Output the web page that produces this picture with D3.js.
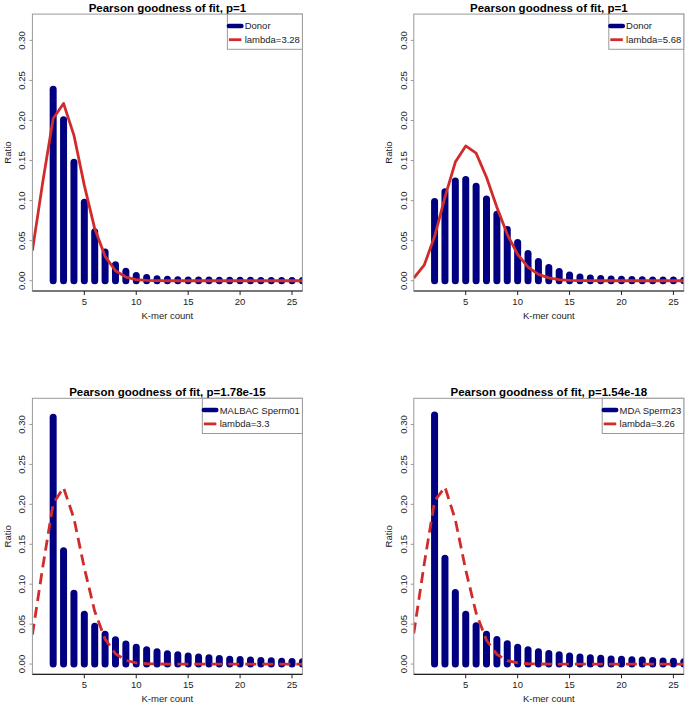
<!DOCTYPE html>
<html>
<head>
<meta charset="utf-8">
<script src="https://cdn.jsdelivr.net/npm/d3@7"></script>
<style>
  html, body { margin: 0; padding: 0; background: #fff; }
  svg { display: block; font-family: "Liberation Sans", Arial, Helvetica, sans-serif; }
</style>
</head>
<body>
<svg id="chart" width="689" height="705"></svg>
<script>
// ---------------- DATA ----------------
const barK = [2,3,4,5,6,7,8,9,10,11,12,13,14,15,16,17,18,19,20,21,22,23,24,25,26];
const fitK = [0,1,2,3,4,5,6,7,8,9,10,11,12,13,14,15,16,17,18,19,20,21,22,23,24,25,26];

const titles = [
  "Pearson goodness of fit, p=1",
  "Pearson goodness of fit, p=1",
  "Pearson goodness of fit, p=1.78e-15",
  "Pearson goodness of fit, p=1.54e-18"
];
const sampleNames = ["Donor", "Donor", "MALBAC Sperm01", "MDA Sperm23"];
const lambdaLabels = ["lambda=3.28", "lambda=5.68", "lambda=3.3", "lambda=3.26"];

const donorA = [0.239, 0.201, 0.148, 0.098, 0.061, 0.036, 0.020, 0.012, 0.0065, 0.004, 0.0025, 0.0018, 0.0013, 0.001, 0.0009, 0.0008, 0.0007, 0.0006, 0.0005, 0.0005, 0.0004, 0.0004, 0.0003, 0.0003, 0.0003];
const donorB = [0.099, 0.111, 0.1245, 0.1265, 0.118, 0.102, 0.083, 0.064, 0.0476, 0.034, 0.024, 0.0164, 0.0114, 0.0072, 0.0047, 0.0035, 0.0028, 0.0022, 0.0018, 0.0015, 0.0012, 0.001, 0.0009, 0.0008, 0.0007];
const malbac01 = [0.309, 0.142, 0.0888, 0.0625, 0.0475, 0.0375, 0.0304, 0.025, 0.0212, 0.018, 0.0154, 0.013, 0.0117, 0.010, 0.009, 0.008, 0.007, 0.0062, 0.0058, 0.005, 0.0046, 0.0042, 0.0036, 0.0032, 0.0028];
const mda23 = [0.312, 0.1325, 0.0896, 0.0625, 0.048, 0.0375, 0.0308, 0.0254, 0.021, 0.018, 0.0154, 0.0133, 0.0117, 0.010, 0.009, 0.008, 0.0072, 0.0065, 0.006, 0.0055, 0.005, 0.0045, 0.004, 0.0035, 0.003];

const fitA = [0.0376, 0.1234, 0.2024, 0.2213, 0.1815, 0.1190, 0.0651, 0.0305, 0.0125, 0.0046, 0.0015, 0.0004, 0.0001, 0, 0, 0, 0, 0, 0, 0, 0, 0, 0, 0, 0, 0, 0];
const fitB = [0.0034, 0.0194, 0.0551, 0.1043, 0.1481, 0.1683, 0.1593, 0.1292, 0.0918, 0.0579, 0.0329, 0.0170, 0.0080, 0.0035, 0.0014, 0.0005, 0.0002, 0.0001, 0, 0, 0, 0, 0, 0, 0, 0, 0];
const fitC = [0.0369, 0.1217, 0.2008, 0.2209, 0.1823, 0.1203, 0.0662, 0.0312, 0.0129, 0.0047, 0.0016, 0.0005, 0.0001, 0, 0, 0, 0, 0, 0, 0, 0, 0, 0, 0, 0, 0, 0];
const fitD = [0.0384, 0.1252, 0.2040, 0.2217, 0.1807, 0.1178, 0.0640, 0.0298, 0.0121, 0.0044, 0.0014, 0.0004, 0.0001, 0, 0, 0, 0, 0, 0, 0, 0, 0, 0, 0, 0, 0, 0];

const yTicks = [0, 0.05, 0.10, 0.15, 0.20, 0.25, 0.30];
const xTicks = [5, 10, 15, 20, 25];

const barSeries = [donorA, donorB, malbac01, mda23];
const fitSeries = [fitA, fitB, fitC, fitD];
const dashedFit = [false, false, true, true];

// ---------------- LAYOUT ----------------
const panelBoxes = [
  {left: 32.4,  right: 302.4, top: 14.1,  bottom: 291.0},
  {left: 413.8, right: 683.8, top: 14.1,  bottom: 291.0},
  {left: 32.4,  right: 302.4, top: 398.3, bottom: 674.3},
  {left: 413.8, right: 683.8, top: 398.3, bottom: 674.3}
];

const NAVY = "#000080";
const RED = "#d22b2b";
const svg = d3.select("#chart");
svg.append("rect").attr("width", 689).attr("height", 705).attr("fill", "#fff");

panelBoxes.forEach((b, i) => {
  const x = d3.scaleLinear().domain([0, 26]).range([b.left, b.right]);
  const y = d3.scaleLinear().domain([-0.0128, 0.3328]).range([b.bottom, b.top]);
  const g = svg.append("g");

  const clipId = "clip" + i;
  svg.append("clipPath").attr("id", clipId)
    .append("rect").attr("x", b.left).attr("y", b.top)
    .attr("width", b.right - b.left).attr("height", b.bottom - b.top);

  const plot = g.append("g").attr("clip-path", `url(#${clipId})`);

  // bars (type="h" style thick lines with round caps)
  plot.selectAll("line.bar").data(barK.map((k, j) => ({k, v: barSeries[i][j]})))
    .join("line").attr("class", "bar")
    .attr("x1", d => x(d.k)).attr("x2", d => x(d.k))
    .attr("y1", y(0)).attr("y2", d => y(d.v))
    .attr("stroke", NAVY).attr("stroke-width", 7).attr("stroke-linecap", "round");

  // fit line
  const line = d3.line().x(d => x(d.k)).y(d => y(d.v));
  plot.append("path")
    .datum(fitK.map((k, j) => ({k, v: fitSeries[i][j]})))
    .attr("d", line).attr("fill", "none")
    .attr("stroke", RED).attr("stroke-width", 2.8)
    .attr("stroke-linejoin", "round")
    .attr("stroke-dasharray", dashedFit[i] ? "11,6" : null);

  // box (gray) and bottom axis (dark)
  g.append("rect").attr("x", b.left).attr("y", b.top)
    .attr("width", b.right - b.left).attr("height", b.bottom - b.top)
    .attr("fill", "none").attr("stroke", "#9a9a9a").attr("stroke-width", 1);
  g.append("line").attr("x1", b.left).attr("x2", b.right)
    .attr("y1", b.bottom).attr("y2", b.bottom)
    .attr("stroke", "#222").attr("stroke-width", 1.2);

  // x ticks
  xTicks.forEach(t => {
    g.append("line").attr("x1", x(t)).attr("x2", x(t))
      .attr("y1", b.bottom).attr("y2", b.bottom + 4)
      .attr("stroke", "#222").attr("stroke-width", 1);
    g.append("text").attr("x", x(t)).attr("y", b.bottom + 10.5)
      .attr("text-anchor", "middle").attr("dominant-baseline", "central")
      .attr("font-size", 9.5).attr("fill", "#222").text(t);
  });

  // y ticks
  yTicks.forEach(t => {
    g.append("line").attr("x1", b.left - 3).attr("x2", b.left)
      .attr("y1", y(t)).attr("y2", y(t))
      .attr("stroke", "#9a9a9a").attr("stroke-width", 1);
    g.append("text")
      .attr("transform", `translate(${b.left - 10.5},${y(t)}) rotate(-90)`)
      .attr("text-anchor", "middle").attr("dominant-baseline", "central")
      .attr("font-size", 9.5).attr("fill", "#222").text(d3.format(".2f")(t));
  });

  // axis titles
  g.append("text")
    .attr("transform", `translate(${b.left - 25.3},${(b.top + b.bottom) / 2}) rotate(-90)`)
    .attr("text-anchor", "middle").attr("dominant-baseline", "central")
    .attr("font-size", 9.5).attr("fill", "#222").text("Ratio");
  g.append("text").attr("x", (b.left + b.right) / 2).attr("y", b.bottom + 24)
    .attr("text-anchor", "middle").attr("dominant-baseline", "central")
    .attr("font-size", 9.5).attr("fill", "#222").text("K-mer count");

  // title
  g.append("text").attr("x", (b.left + b.right) / 2).attr("y", b.top - 6.6)
    .attr("text-anchor", "middle").attr("dominant-baseline", "central")
    .attr("font-size", 11.5).attr("font-weight", "bold").attr("fill", "#000")
    .text(titles[i]);

  // legend
  const lg = g.append("g");
  const t1 = lg.append("text").attr("y", b.top + 11.8)
    .attr("dominant-baseline", "central").attr("font-size", 9.5).attr("fill", "#222")
    .text(sampleNames[i]);
  const t2 = lg.append("text").attr("y", b.top + 25.6)
    .attr("dominant-baseline", "central").attr("font-size", 9.5).attr("fill", "#222")
    .text(lambdaLabels[i]);
  const tw = Math.max(t1.node().getComputedTextLength(), t2.node().getComputedTextLength());
  const boxW = 17.3 + tw + 2.5;
  const lx = b.right - boxW;
  t1.attr("x", lx + 17.3);
  t2.attr("x", lx + 17.3);
  lg.insert("rect", ":first-child").attr("x", lx).attr("y", b.top)
    .attr("width", boxW).attr("height", 35.2)
    .attr("fill", "#fff").attr("stroke", "#9a9a9a").attr("stroke-width", 1);
  lg.append("line").attr("x1", lx + 1.5).attr("x2", lx + 14)
    .attr("y1", b.top + 11.8).attr("y2", b.top + 11.8)
    .attr("stroke", NAVY).attr("stroke-width", 4.5).attr("stroke-linecap", "round");
  lg.append("line").attr("x1", lx + 1.5).attr("x2", lx + 14)
    .attr("y1", b.top + 25.6).attr("y2", b.top + 25.6)
    .attr("stroke", RED).attr("stroke-width", 2.8);
});
</script>
</body>
</html>
